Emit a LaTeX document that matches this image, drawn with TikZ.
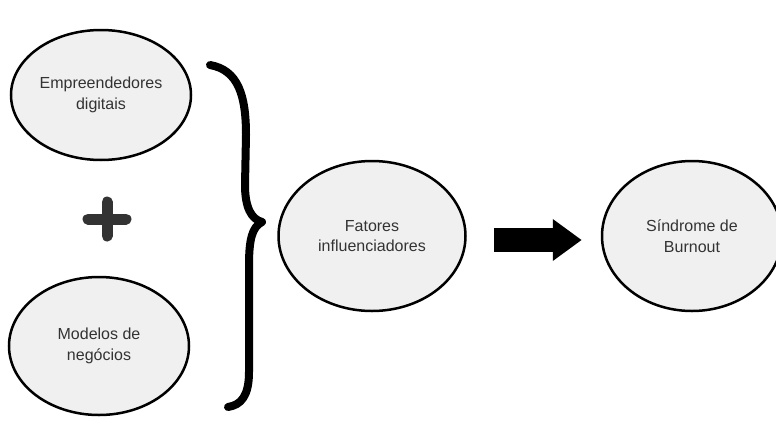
\documentclass[tikz,border=0pt]{standalone}
\usepackage{fontspec}
\setsansfont{Liberation Sans}
\usepackage{tikz}
\usetikzlibrary{shapes.geometric,arrows.meta}

\definecolor{bubblegray}{HTML}{F0F0F0}
\definecolor{inkgray}{HTML}{333333}

\begin{document}
\begin{tikzpicture}[x=1pt,y=-1pt,
 bubble/.style={ellipse,draw=black,line width=2.5pt,fill=bubblegray,text=inkgray,
  font=\sf\fontsize{16}{20.5}\selectfont,align=center,inner sep=0pt},
 bigarrow/.style={line width=24pt,-{Triangle[length=29pt,width=40pt]}}]
 \useasboundingbox (0,0) rectangle (776,426);
 \clip (0,0) rectangle (776,426);

 % left side
 \node[bubble,minimum width=180pt,minimum height=130pt] (emp) at (101,95) {Empreendedores\\digitais};
 \node[bubble,minimum width=180pt,minimum height=138pt] (mod) at (99,346) {Modelos de\\neg\'ocios};
 \coordinate (plus) at (107,219);
 \draw[inkgray,line width=11pt,line cap=round] (plus) ++(-19,0) -- ++(38,0)
  (plus) ++(0,-17) -- ++(0,34);

 % brace
 \draw[line width=8pt,line cap=round,line join=round]
  (210,65) .. controls (238,70) and (246,95) .. (246,135) -- (245,185)
  .. controls (245,207) and (251,219) .. (262,222)
  .. controls (252,227) and (249,240) .. (249,265) -- (249,372)
  .. controls (249,396) and (241,405) .. (228,407);

 % right side
 \node[bubble,minimum width=187pt,minimum height=150pt] (fat) at (372,236) {Fatores\\influenciadores};
 \node[bubble,minimum width=180pt,minimum height=150pt] (sin) at (692,236) {S\'indrome de\\Burnout};
 \draw[bigarrow,shorten <=27pt,shorten >=19pt] ([yshift=-4pt]fat.east) -- ([yshift=-4pt]sin.west);
\end{tikzpicture}
\end{document}
